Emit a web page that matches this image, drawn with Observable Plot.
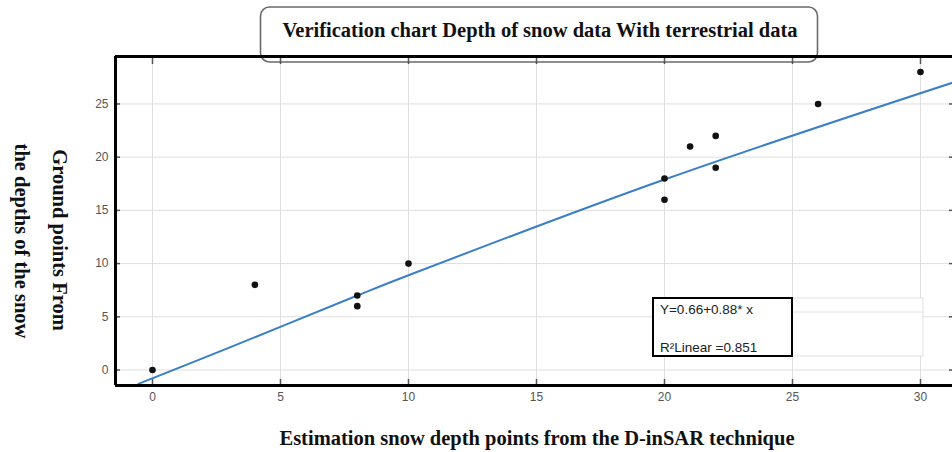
<!DOCTYPE html>
<html>
<head>
<meta charset="utf-8">
<script src="https://cdn.jsdelivr.net/npm/d3@7"></script>
<script src="https://cdn.jsdelivr.net/npm/@observablehq/plot@0.6"></script>
<style>
  html, body { margin: 0; padding: 0; background: #fff; overflow: hidden; }
  #chart { width: 952px; height: 452px; }
</style>
</head>
<body>
<div id="chart"></div>
<script>
// Scatter data (estimated D-inSAR depth vs ground depth)
const estimated = [0, 4, 8, 8, 10, 20, 20, 21, 22, 22, 26, 30];
const ground    = [0, 8, 7, 6, 10, 18, 16, 21, 22, 19, 25, 28];
// Fit line as drawn in the reference
const fitX = [-0.55, 3, 8, 10, 20, 31.25];
const fitY = [-1.3, 2.1, 7.0, 8.9, 17.9, 27.0];
// Ticks
const xTicks = [0, 5, 10, 15, 20, 25, 30];
const yTicks = [0, 5, 10, 15, 20, 25];
// Texts
const titleText = "Verification chart Depth of snow data With terrestrial data";
const xLabel = "Estimation snow depth points from the D-inSAR technique";
const yLabel1 = "Ground points From";
const yLabel2 = "the depths of the snow";
const legendLine1 = "Y=0.66+0.88* x";
const legendLine2 = "R²Linear =0.851";

const xDomain = [-1.445, 31.25];
const yDomain = [-1.457, 29.46];

const points = estimated.map((x, i) => ({x, y: ground[i]}));
const fit = fitX.map((x, i) => ({x, y: fitY[i]}));

const W = 952, H = 452, mL = 115, mR = 0, mT = 56, mB = 67;
const fw = W - mL - mR, fh = H - mT - mB;

const plot = Plot.plot({
  width: W, height: H,
  marginLeft: mL, marginRight: mR, marginTop: mT, marginBottom: mB,
  style: {background: "#fff", fontFamily: "'Liberation Sans', Arial, sans-serif"},
  x: {domain: xDomain},
  y: {domain: yDomain},
  marks: [
    Plot.gridX(xTicks, {stroke: "#dedede", strokeOpacity: 1}),
    Plot.gridY(yTicks, {stroke: "#dedede", strokeOpacity: 1}),
    Plot.ruleX(xTicks, {insetTop: fh - 6, stroke: "#555", strokeWidth: 1.5}),
    Plot.ruleX(xTicks, {insetBottom: fh - 8, stroke: "#555", strokeWidth: 1.5}),
    Plot.ruleY(yTicks, {insetRight: fw - 5, stroke: "#555", strokeWidth: 1.5}),
    Plot.ruleY(yTicks, {insetLeft: fw - 3, stroke: "#555", strokeWidth: 1.5}),
    Plot.axisX(xTicks, {tickSize: 0, tickPadding: 7, fontSize: 12, fill: "#555", label: null}),
    Plot.axisY(yTicks, {tickSize: 0, tickPadding: 7, fontSize: 12, fill: "#555", label: null}),
    Plot.line(fit, {x: "x", y: "y", stroke: "#3a7ec8", strokeWidth: 2, curve: "catmull-rom"}),
    Plot.dot(points, {x: "x", y: "y", r: 3.3, fill: "#111", stroke: "none"}),
    Plot.ruleX([xDomain[0]], {stroke: "#000", strokeWidth: 3}),
    Plot.ruleY([yDomain[0], yDomain[1]], {stroke: "#000", strokeWidth: 3})
  ]
});

document.getElementById("chart").appendChild(plot);

const svg = d3.select(plot);
const sx = plot.scale("x"), sy = plot.scale("y");
const serif = "'Liberation Serif', 'Times New Roman', serif";
const sans = "'Liberation Sans', Arial, sans-serif";

// Title box (behind the frame)
const tg = svg.insert("g", ":first-child");
tg.append("rect").attr("x", 260.5).attr("y", 7).attr("width", 557).attr("height", 55)
  .attr("rx", 9).attr("fill", "#fff").attr("stroke", "#6a6a6a").attr("stroke-width", 1.6);
svg.append("text").attr("x", 540).attr("y", 37).attr("text-anchor", "middle")
  .attr("font-family", serif).attr("font-weight", "bold").attr("font-size", 20.5)
  .attr("fill", "#111").text(titleText);

// Axis titles
svg.append("text").attr("x", 537).attr("y", 445).attr("text-anchor", "middle")
  .attr("font-family", serif).attr("font-weight", "bold").attr("font-size", 20.5)
  .attr("fill", "#111").text(xLabel);
svg.append("text").attr("transform", "translate(53,240) rotate(90)").attr("text-anchor", "middle")
  .attr("font-family", serif).attr("font-weight", "bold").attr("font-size", 20.5)
  .attr("fill", "#111").text(yLabel1);
svg.append("text").attr("transform", "translate(15,241) rotate(90)").attr("text-anchor", "middle")
  .attr("font-family", serif).attr("font-weight", "bold").attr("font-size", 20.5)
  .attr("fill", "#111").text(yLabel2);

// Pasted white artifact box next to legend
const ax0 = sx.apply(25), ax1 = sx.apply(30) + 3;
svg.append("rect").attr("x", ax0).attr("y", 298).attr("width", ax1 - ax0).attr("height", 58)
  .attr("fill", "#fff").attr("stroke", "#e2e2e2").attr("stroke-width", 1);
svg.append("line").attr("x1", ax0).attr("x2", ax1).attr("y1", 312).attr("y2", 312)
  .attr("stroke", "#e2e2e2");

// Legend box
const lx0 = sx.apply(19.57), lx1 = sx.apply(25);
svg.append("rect").attr("x", lx0).attr("y", 298).attr("width", lx1 - lx0).attr("height", 58)
  .attr("fill", "#fff").attr("stroke", "#000").attr("stroke-width", 2);
svg.append("text").attr("x", lx0 + 7).attr("y", 314).attr("text-anchor", "start")
  .attr("font-family", sans).attr("font-size", 13.5)
  .attr("fill", "#222").text(legendLine1);
svg.append("text").attr("x", lx0 + 7).attr("y", 352).attr("text-anchor", "start")
  .attr("font-family", sans).attr("font-size", 13.5)
  .attr("fill", "#222").text(legendLine2);
</script>
</body>
</html>
